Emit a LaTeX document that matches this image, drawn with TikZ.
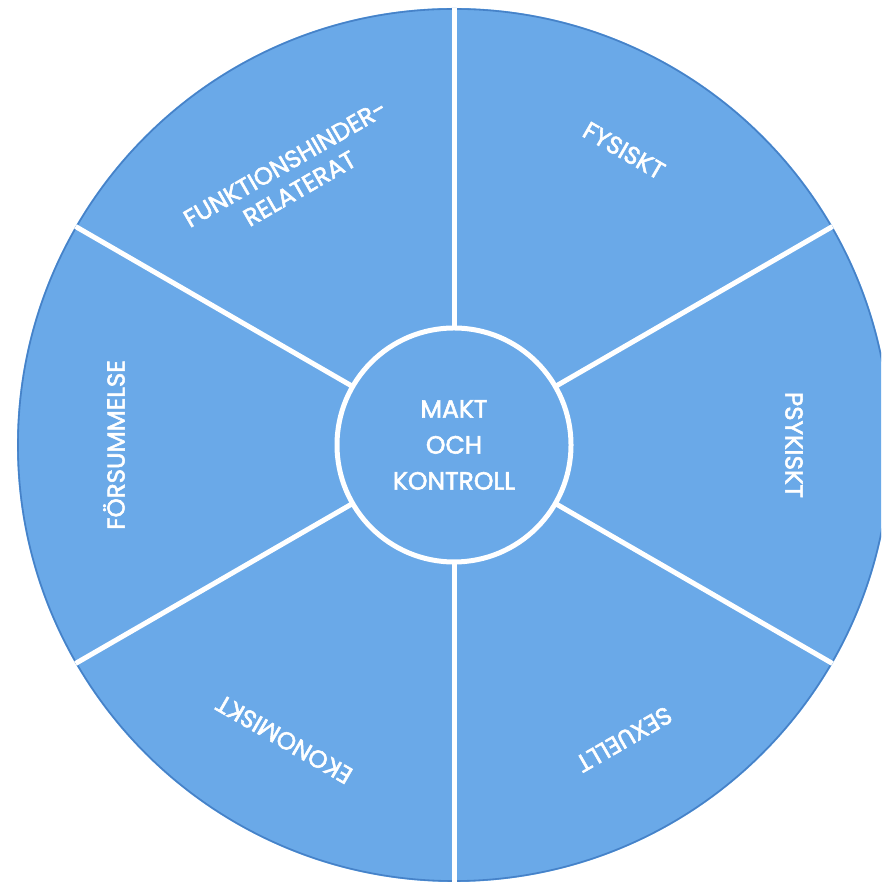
\documentclass[tikz,border=0pt]{standalone}
\usepackage{fontspec}
\usetikzlibrary{calc}
\setmainfont{Poppins}[FakeBold=2.2]
\definecolor{segblue}{RGB}{106,169,232}
\definecolor{rimblue}{RGB}{70,130,200}
\begin{document}
\begin{tikzpicture}[x=1pt,y=1pt,
  spoke/.style={draw=white,line width=5pt},
  rim/.style={draw=rimblue,line width=1.6pt},
  hub/.style={circle,fill=segblue,draw=white,line width=5pt,minimum size=234pt,inner sep=0pt,
    text=white,align=center,font=\fontsize{25}{36}\selectfont},
  lbl/.style={text=white,align=center,font=\fontsize{24.5}{29}\selectfont,inner sep=0pt}]
\useasboundingbox (0,0) rectangle (881,882);
\clip (0,0) rectangle (881,882);
\fill[white] (0,0) rectangle (881,882);
\coordinate (O) at (454,437);
\fill[segblue] (O) circle (437pt);
\draw[rim] (O) circle (436pt);
\foreach \a in {30,90,150,210,270,330}{
  \coordinate (e\a) at ($(O)+(\a:437pt)$);
}
\foreach \a in {30,90,150,210,270,330}{
  \draw[spoke] (O) -- (e\a);
}
\node[hub] (hub) at (O) {MAKT\\OCH\\KONTROLL};
% labels
\foreach \a/\d/\r/\t/\n in {60/340/-30/FYSISKT/fys, 0/340/-90/PSYKISKT/psy, -60/340/-150/SEXUELLT/sex,
   -120/340/150/EKONOMISKT/eko, 180/340/90/FÖRSUMMELSE/for, 121/314/30/{FUNKTIONSHINDER-\\RELATERAT}/fun}{
  \node[lbl,rotate=\r] (\n) at ($(O)+(\a:\d pt)$) {\t};
}
\end{tikzpicture}
\end{document}
